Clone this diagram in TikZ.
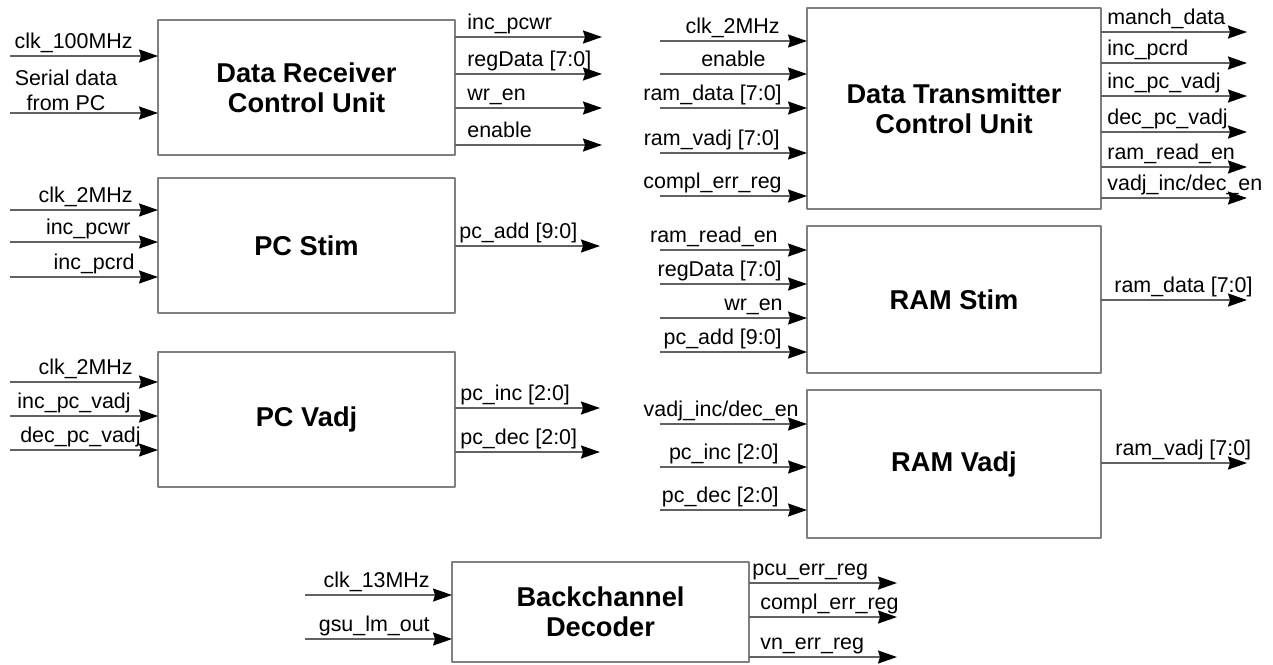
\documentclass[tikz,border=0pt]{standalone}
\usepackage{fontspec}
\setmainfont{Liberation Sans}
\usetikzlibrary{arrows.meta}

\tikzset{
  blk/.style={draw=black!50, line width=0.9pt, inner sep=0pt, outer sep=0pt,
    align=center, font=\fontsize{15.5}{17}\selectfont\bfseries},
  sig/.style={draw=black!62, line width=0.9pt,
    -{Stealth[length=0.38cm, width=0.26cm, inset=0.04cm, color=black]}},
  lbl/.style={inner sep=0pt, font=\fontsize{12.2}{14}\selectfont},
}

\begin{document}
\begin{tikzpicture}[x=0.02cm, y=-0.02cm, line join=round]
  \useasboundingbox (0,0) rectangle (1273,664);

  % Blocks
  \node[blk, minimum width=5.94cm, minimum height=2.7cm] (dr) at (306.5,87.5) {Data Receiver\\Control Unit};
  \node[blk, minimum width=5.94cm, minimum height=2.7cm] (pcs) at (306.5,245.5) {PC Stim};
  \node[blk, minimum width=5.94cm, minimum height=2.7cm] (pcv) at (306.5,419.5) {PC Vadj};
  \node[blk, minimum width=5.88cm, minimum height=4.02cm] (dt) at (954,108.5) {Data Transmitter\\Control Unit};
  \node[blk, minimum width=5.88cm, minimum height=2.94cm] (rs) at (954,299.5) {RAM Stim};
  \node[blk, minimum width=5.88cm, minimum height=2.96cm] (rv) at (954,464) {RAM Vadj};
  \node[blk, minimum width=5.94cm, minimum height=2.0cm] (bd) at (600.5,612) {Backchannel\\Decoder};

  % Data Receiver Control Unit
  \coordinate (dri1) at (10,56);
  \draw[sig] (dri1) -- (dri1 -| dr.west);
  \node[lbl, anchor=base east] (dril1) at (133,48) {clk\_100MHz};
  \coordinate (dri2) at (10,113);
  \draw[sig] (dri2) -- (dri2 -| dr.west);
  \node[lbl, align=center, font=\fontsize{12.2}{14.2}\selectfont] (dril2) at (66,90) {Serial data\\from PC};
  \foreach \y/\t [count=\i] in {37/{inc\_pcwr}, 74/{regData [7:0]}, 108/{wr\_en}, 145/{enable}} {
    \coordinate (dro\i) at (602,\y);
    \draw[sig] (dro\i -| dr.east) -- (dro\i);
    \node[lbl, anchor=base west] (drol\i) at (467,\y-8) {\t};
  }

  % PC Stim
  \foreach \y/\x/\t [count=\i] in {210/133/{clk\_2MHz}, 242/131/{inc\_pcwr}, 277/135/{inc\_pcrd}} {
    \coordinate (pcsi\i) at (10,\y);
    \draw[sig] (pcsi\i) -- (pcsi\i -| pcs.west);
    \node[lbl, anchor=base east] (pcsil\i) at (\x,\y-8) {\t};
  }
  \coordinate (pcso1) at (600,246);
  \draw[sig] (pcso1 -| pcs.east) -- (pcso1);
  \node[lbl, anchor=base west] (pcsol1) at (459,238) {pc\_add [9:0]};

  % PC Vadj
  \foreach \y/\x/\t [count=\i] in {382/133/{clk\_2MHz}, 416/131/{inc\_pc\_vadj}, 450/141/{dec\_pc\_vadj}} {
    \coordinate (pcvi\i) at (10,\y);
    \draw[sig] (pcvi\i) -- (pcvi\i -| pcv.west);
    \node[lbl, anchor=base east] (pcvil\i) at (\x,\y-8) {\t};
  }
  \foreach \y/\t [count=\i] in {408/{pc\_inc [2:0]}, 452/{pc\_dec [2:0]}} {
    \coordinate (pcvo\i) at (600,\y);
    \draw[sig] (pcvo\i -| pcv.east) -- (pcvo\i);
    \node[lbl, anchor=base west] (pcvol\i) at (460,\y-8) {\t};
  }

  % Data Transmitter Control Unit
  \foreach \y/\x/\t [count=\i] in {41/780/{clk\_2MHz}, 74/766/{enable}, 108/782/{ram\_data [7:0]},
      153/780/{ram\_vadj [7:0]}, 196/782/{compl\_err\_reg}} {
    \coordinate (dti\i) at (660,\y);
    \draw[sig] (dti\i) -- (dti\i -| dt.west);
    \node[lbl, anchor=base east] (dtil\i) at (\x,\y-8) {\t};
  }
  \foreach \y/\t [count=\i] in {32/{manch\_data}, 63/{inc\_pcrd}, 96/{inc\_pc\_vadj}, 132/{dec\_pc\_vadj},
      167/{ram\_read\_en}, 198/{vadj\_inc/dec\_en}} {
    \coordinate (dto\i) at (1247,\y);
    \draw[sig] (dto\i -| dt.east) -- (dto\i);
    \node[lbl, anchor=base west] (dtol\i) at (1107,\y-8) {\t};
  }

  % RAM Stim
  \foreach \y/\x/\t [count=\i] in {250/778/{ram\_read\_en}, 284/782/{regData [7:0]}, 318/783/{wr\_en},
      352/782/{pc\_add [9:0]}} {
    \coordinate (rsi\i) at (660,\y);
    \draw[sig] (rsi\i) -- (rsi\i -| rs.west);
    \node[lbl, anchor=base east] (rsil\i) at (\x,\y-8) {\t};
  }
  \coordinate (rso1) at (1247,300);
  \draw[sig] (rso1 -| rs.east) -- (rso1);
  \node[lbl, anchor=base west] (rsol1) at (1114,292) {ram\_data [7:0]};

  % RAM Vadj
  \foreach \y/\x/\t [count=\i] in {424/799/{vadj\_inc/dec\_en}, 467/779/{pc\_inc [2:0]}, 510/779/{pc\_dec [2:0]}} {
    \coordinate (rvi\i) at (660,\y);
    \draw[sig] (rvi\i) -- (rvi\i -| rv.west);
    \node[lbl, anchor=base east] (rvil\i) at (\x,\y-8) {\t};
  }
  \coordinate (rvo1) at (1247,463);
  \draw[sig] (rvo1 -| rv.east) -- (rvo1);
  \node[lbl, anchor=base west] (rvol1) at (1115,455) {ram\_vadj [7:0]};

  % Backchannel Decoder
  \foreach \y/\t [count=\i] in {595/{clk\_13MHz}, 639/{gsu\_lm\_out}} {
    \coordinate (bdi\i) at (305,\y);
    \draw[sig] (bdi\i) -- (bdi\i -| bd.west);
    \node[lbl, anchor=base east] (bdil\i) at (430,\y-8) {\t};
  }
  \foreach \y/\x/\t [count=\i] in {583/752/{pcu\_err\_reg}, 617/760/{compl\_err\_reg}, 657/760/{vn\_err\_reg}} {
    \coordinate (bdo\i) at (897,\y);
    \draw[sig] (bdo\i -| bd.east) -- (bdo\i);
    \node[lbl, anchor=base west] (bdol\i) at (\x,\y-8) {\t};
  }
\end{tikzpicture}
\end{document}
